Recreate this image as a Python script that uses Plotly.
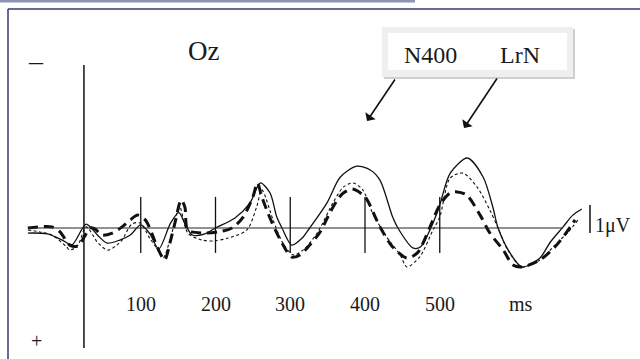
import plotly.graph_objects as go

# ---------------- data (ms, microvolts; negative is plotted upward) ----------------
solid_t = [-51, -25, -5, 8, 27, 42, 55, 72, 86, 100, 112, 124, 140, 151, 160, 169, 185, 200,
           226, 246, 260, 273, 282, 289, 302, 316, 326, 349, 367, 389, 407, 420, 437, 444, 464,
           474, 491, 500, 514, 537, 558, 571, 578, 594, 610, 634, 648, 665, 678, 690]
solid_v = [0.18, 0.21, 0.43, 0.6, -0.14, 0.25, 0.54, 0.43, 0.25, -0.11, 0.2, 0.75, -0.18, -0.55,
           -0.1, 0.25, 0.22, 0.0, -0.36, -0.89, -1.61, -1.25, -0.39, 0.0, 0.61, 0.36, 0.0, -0.89,
           -1.82, -2.21, -2.07, -1.71, -0.39, 0.0, 0.71, 0.68, -0.18, -0.82, -1.96, -2.5, -1.82,
           -0.75, 0.0, 0.89, 1.39, 1.07, 0.5, -0.04, -0.46, -0.68]

thin_t = [-51, -35, -19, 1, 5, 16, 27, 43, 56, 68, 75, 88, 99, 112, 123, 130, 142, 152, 163, 182,
          199, 217, 242, 255, 262, 277, 290, 304, 317, 336, 357, 371, 384, 397, 410, 429, 447, 456,
          473, 491, 500, 514, 531, 550, 567, 578, 591, 610, 634, 654, 672, 685]
thin_v = [0.07, 0.14, 0.25, 0.68, 0.79, 0.61, -0.04, 0.54, 0.79, 0.61, 0.43, -0.14, -0.18, 0.36,
          0.79, 1.07, 0.14, -0.75, 0.18, 0.43, 0.46, 0.36, 0.07, -0.75, -1.36, -0.29, 0.54, 0.96,
          0.79, 0.18, -0.89, -1.46, -1.61, -1.36, -0.54, 0.32, 0.96, 1.39, 1.04, 0.07, -0.39,
          -1.79, -1.96, -1.46, -0.64, 0.0, 0.79, 1.39, 1.14, 0.61, 0.14, -0.29]

thick_t = [-51, -19, -8, 5, 16, 25, 32, 39, 48, 62, 75, 86, 96, 106, 112, 122, 132, 139, 146, 154,
           159, 163, 183, 203, 222, 237, 250, 256, 262, 270, 280, 289, 302, 313, 326, 340, 353,
           363, 371, 383, 400, 420, 437, 456, 470, 487, 500, 514, 523, 536, 554, 567, 585, 598,
           610, 634, 654, 670, 681]
thick_v = [0.0, -0.04, 0.14, 0.61, 0.64, 0.29, 0.0, 0.04, 0.25, 0.18, -0.04, -0.29, -0.46, -0.29,
           0.0, 0.68, 1.14, 0.54, -0.21, -1.0, -0.75, 0.07, 0.18, 0.14, 0.0, -0.39, -1.11, -1.61,
           -1.11, -0.54, 0.07, 0.54, 1.04, 0.96, 0.61, 0.14, -0.54, -1.0, -1.25, -1.39, -1.11,
           -0.04, 0.68, 1.07, 0.89, -0.04, -0.82, -1.25, -1.29, -1.18, -0.46, 0.18, 0.79, 1.32,
           1.39, 1.14, 0.68, 0.14, -0.29]

tick_vals = [100, 200, 300, 400, 500]
tick_labels = ["100", "200", "300", "400", "500"]
unit_label = "ms"
unit_at = 609
channel = "Oz"
components = ["N400", "LrN"]
scale_label = "1\u03bcV"

# ---------------- layout helpers ----------------
W, H = 640, 359
X0, XS = 66.0, 0.7475      # pixel of 0 ms, pixels per ms
Y0, YS = 228.0, 28.0       # pixel of 0 uV, pixels per uV


def px(x):
    return x / W


def py(y):
    return 1 - y / H


FONT = "Liberation Serif, Times New Roman, serif"
INK = "#1a1a1a"

fig = go.Figure()

fig.add_trace(go.Scatter(x=thin_t, y=thin_v, mode="lines",
                         line=dict(color="#111", width=1.1, dash="3px,2.5px", shape="spline", smoothing=0.8),
                         hoverinfo="skip"))
fig.add_trace(go.Scatter(x=thick_t, y=thick_v, mode="lines",
                         line=dict(color="#111", width=3, dash="10px,6px", shape="spline", smoothing=0.8),
                         hoverinfo="skip"))
fig.add_trace(go.Scatter(x=solid_t, y=solid_v, mode="lines",
                         line=dict(color="#111", width=1.3, shape="spline", smoothing=0.8),
                         hoverinfo="skip"))

shapes = []
# page decorations
shapes.append(dict(type="rect", xref="paper", yref="paper", x0=px(0), x1=px(415), y0=py(0), y1=py(2.5),
                   line=dict(width=0), fillcolor="#8e94b6", layer="below"))
shapes.append(dict(type="line", xref="paper", yref="paper", x0=px(8), x1=px(640), y0=py(9), y1=py(9),
                   line=dict(color="#333777", width=1.5)))
shapes.append(dict(type="line", xref="paper", yref="paper", x0=px(8), x1=px(8), y0=py(9), y1=py(359),
                   line=dict(color="#333777", width=1.5)))

# legend box (shadow, frame, inner)
shapes.append(dict(type="rect", xref="paper", yref="paper", x0=px(384), x1=px(575), y0=py(29), y1=py(79),
                   line=dict(width=0), fillcolor="#cfcfcf"))
shapes.append(dict(type="rect", xref="paper", yref="paper", x0=px(382), x1=px(573), y0=py(27), y1=py(77),
                   line=dict(width=0), fillcolor="#efefef"))
shapes.append(dict(type="rect", xref="paper", yref="paper", x0=px(388), x1=px(567), y0=py(33), y1=py(70),
                   line=dict(width=0), fillcolor="#ffffff"))

# axes
onset = 24
shapes.append(dict(type="line", x0=-51, x1=665, y0=0, y1=0, line=dict(color="#222", width=1)))
shapes.append(dict(type="line", x0=onset, x1=onset, y0=-5.82, y1=4.29, line=dict(color="#111", width=1.5)))
for t in tick_vals:
    shapes.append(dict(type="line", x0=t, x1=t, y0=-1.11, y1=0.89, line=dict(color="#111", width=1.3)))
# 1 uV scale bar
shapes.append(dict(type="line", x0=701, x1=701, y0=-0.82, y1=0.18, line=dict(color="#111", width=1.5)))

CENTER = dict(xanchor="center", yanchor="middle")
annotations = []
for t, lab in zip(tick_vals, tick_labels):
    annotations.append(dict(x=t, y=2.71, text=lab, showarrow=False, **CENTER,
                            font=dict(family=FONT, size=20, color=INK)))
annotations.append(dict(x=unit_at, y=2.71, text=unit_label, showarrow=False, **CENTER,
                        font=dict(family=FONT, size=20, color=INK)))
annotations.append(dict(x=705, y=-0.1, text=scale_label, showarrow=False, xanchor="left", yanchor="middle",
                        font=dict(family=FONT, size=20, color=INK)))
annotations.append(dict(xref="paper", yref="paper", x=px(203), y=py(51), text=channel, showarrow=False,
                        **CENTER, font=dict(family=FONT, size=27, color=INK)))
annotations.append(dict(xref="paper", yref="paper", x=px(430), y=py(55), text=components[0], showarrow=False,
                        **CENTER, font=dict(family=FONT, size=24, color=INK)))
annotations.append(dict(xref="paper", yref="paper", x=px(520), y=py(55), text=components[1], showarrow=False,
                        **CENTER, font=dict(family=FONT, size=24, color=INK)))
annotations.append(dict(xref="paper", yref="paper", x=px(35.5), y=py(61), text="\u2013", showarrow=False,
                        **CENTER, font=dict(family=FONT, size=28, color=INK)))
annotations.append(dict(xref="paper", yref="paper", x=px(36), y=py(341), text="+", showarrow=False,
                        **CENTER, font=dict(family=FONT, size=20, color=INK)))
# arrows from the legend box to the components
annotations.append(dict(xref="paper", yref="paper", x=px(367), y=py(121), ax=29, ay=-43, text="",
                        showarrow=True, arrowhead=1, arrowsize=1.3, arrowwidth=1.6, arrowcolor="#111",
                        standoff=0))
annotations.append(dict(xref="paper", yref="paper", x=px(464), y=py(128), ax=34, ay=-51, text="",
                        showarrow=True, arrowhead=1, arrowsize=1.3, arrowwidth=1.6, arrowcolor="#111",
                        standoff=0))

fig.update_layout(
    width=W, height=H,
    margin=dict(l=0, r=0, t=0, b=0),
    paper_bgcolor="white", plot_bgcolor="white",
    showlegend=False,
    xaxis=dict(visible=False, range=[(0 - X0) / XS, (W - X0) / XS], fixedrange=True),
    yaxis=dict(visible=False, range=[(H - Y0) / YS, (0 - Y0) / YS], fixedrange=True),
    shapes=shapes,
    annotations=annotations,
)

fig.write_html("out.html", config=dict(displayModeBar=False),
               post_script="document.body.style.margin='0';document.body.style.overflow='hidden';")
